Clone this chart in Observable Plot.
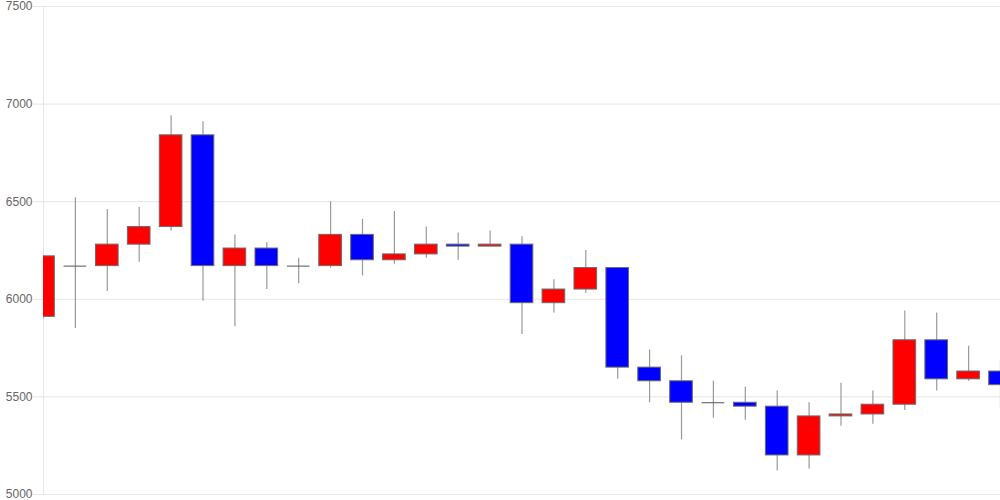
<!DOCTYPE html>
<html>
<head>
<meta charset="utf-8">
<script src="https://cdn.jsdelivr.net/npm/d3@7"></script>
<script src="https://cdn.jsdelivr.net/npm/@observablehq/plot@0.6"></script>
<style>
  html, body { margin: 0; padding: 0; background: #fff; }
  #chart svg { display: block; }
</style>
</head>
<body>
<div id="chart"></div>
<script>
// Candle index (one per trading day)
const idx   = d3.range(31);
const open  = [5910, 6170, 6170, 6280, 6370, 6840, 6170, 6260, 6170, 6170, 6330, 6200, 6230, 6280, 6270, 6280, 5980, 6050, 6160, 5650, 5580, 5470, 5470, 5450, 5200, 5400, 5410, 5460, 5790, 5590, 5630];
const high  = [6220, 6520, 6460, 6470, 6940, 6910, 6330, 6290, 6210, 6500, 6410, 6450, 6370, 6340, 6350, 6320, 6100, 6250, 6160, 5740, 5710, 5580, 5550, 5530, 5470, 5570, 5530, 5940, 5930, 5760, 5690];
const low   = [5900, 5850, 6040, 6190, 6350, 5990, 5860, 6050, 6080, 6160, 6120, 6180, 6210, 6200, 6270, 5820, 5930, 6030, 5590, 5470, 5280, 5390, 5380, 5120, 5130, 5350, 5360, 5430, 5530, 5580, 5440];
const close = [6220, 6170, 6280, 6370, 6840, 6170, 6260, 6170, 6170, 6330, 6200, 6230, 6280, 6270, 6280, 5980, 6050, 6160, 5650, 5580, 5470, 5470, 5450, 5200, 5400, 5410, 5460, 5790, 5590, 5630, 5560];
const yTicks = [5000, 5500, 6000, 6500, 7000, 7500];

const data = idx.map(i => ({i, open: open[i], high: high[i], low: low[i], close: close[i]}));
const half = 0.355;

const chart = Plot.plot({
  width: 1000,
  height: 500,
  marginLeft: 43,
  marginRight: 0,
  marginTop: 6,
  marginBottom: 6,
  style: {fontFamily: "'Liberation Sans', Arial, sans-serif", fontSize: "12px", background: "#fff"},
  x: {domain: [0, 30], axis: null},
  y: {domain: [5000, 7500], axis: null},
  marks: [
    Plot.gridY(yTicks, {stroke: "#e6e6e6", strokeOpacity: 1}),
    Plot.axisY(yTicks, {tickSize: 10, tickPadding: 1, stroke: "#e6e6e6", fill: "#666", fontSize: 12, label: null, tickFormat: d => String(d)}),
    Plot.ruleX([0], {stroke: "#e6e6e6"}),
    Plot.ruleX(data, {x: "i", y1: "low", y2: "high", stroke: "#999", strokeWidth: 1.2, clip: true}),
    Plot.rectY(data, {
      filter: d => d.open !== d.close,
      x1: d => d.i - half, x2: d => d.i + half,
      y1: "open", y2: "close",
      fill: d => d.close > d.open ? "#ff0000" : "#0000ff",
      stroke: "#6b6b6b", strokeWidth: 1,
      clip: true
    }),
    Plot.ruleY(data, {
      filter: d => d.open === d.close,
      y: "open", x1: d => d.i - half, x2: d => d.i + half,
      stroke: "#555", strokeWidth: 1, clip: true
    })
  ]
});
document.getElementById("chart").appendChild(chart);
</script>
</body>
</html>
